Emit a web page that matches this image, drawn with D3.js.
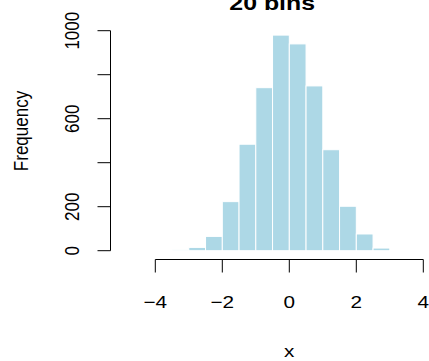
<!DOCTYPE html>
<html>
<head>
<meta charset="utf-8">
<script src="https://cdn.jsdelivr.net/npm/d3@7/dist/d3.min.js"></script>
<style>
  html, body { margin: 0; padding: 0; background: #fff; }
  svg { display: block; font-family: "Liberation Sans", Arial, Helvetica, sans-serif; }
</style>
</head>
<body>
<svg id="chart" width="429" height="361"></svg>
<script>
// Histogram bins (lower edges, width 0.5) and their counts
const binStarts = [-3.5, -3.0, -2.5, -2.0, -1.5, -1.0, -0.5, 0.0, 0.5, 1.0, 1.5, 2.0, 2.5, 3.0];
const counts    = [5, 15, 65, 223, 484, 741, 980, 940, 749, 459, 202, 76, 12, 1];
const binWidth = 0.5;

const xTicks = [-4, -2, 0, 2, 4];
const xTickLabels = ["\u22124", "\u22122", "0", "2", "4"];
const yTicks = [0, 200, 400, 600, 800, 1000];
const yTickLabels = ["0", "200", "", "600", "", "1000"];

const titleText = "20 bins";
const xLabel = "x";
const yLabel = "Frequency";

// text is drawn slightly wide
const stretch = 1.22;
const fontSize = 17;

const svg = d3.select("#chart");

const x = d3.scaleLinear().domain([-4, 4]).range([155.3, 423.3]);
const y = d3.scaleLinear().domain([0, 1000]).range([250.7, 30.7]);

// bars
svg.append("g")
  .selectAll("rect")
  .data(binStarts.map((s, i) => ({ x0: s, x1: s + binWidth, n: counts[i] })))
  .join("rect")
  .attr("x", d => x(d.x0))
  .attr("width", d => x(d.x1) - x(d.x0))
  .attr("y", d => y(d.n))
  .attr("height", d => y(0) - y(d.n))
  .attr("fill", "#ADD8E6")
  .attr("stroke", "#ffffff")
  .attr("stroke-width", 1);

// x axis
const xAxisY = 259.5;
const gx = svg.append("g").attr("transform", `translate(0,${xAxisY})`);
gx.append("line")
  .attr("x1", x(xTicks[0])).attr("x2", x(xTicks[xTicks.length - 1]))
  .attr("stroke", "#000").attr("stroke-width", 1);
gx.selectAll("line.tick")
  .data(xTicks)
  .join("line")
  .attr("class", "tick")
  .attr("x1", d => x(d)).attr("x2", d => x(d))
  .attr("y1", 0).attr("y2", 13)
  .attr("stroke", "#000").attr("stroke-width", 1);
gx.selectAll("text")
  .data(xTicks)
  .join("text")
  .attr("transform", d => `translate(${x(d)},48) scale(${stretch},1)`)
  .attr("text-anchor", "middle")
  .attr("font-size", fontSize)
  .attr("fill", "#000")
  .text((d, i) => xTickLabels[i]);

// y axis
const yAxisX = 110.5;
const gy = svg.append("g").attr("transform", `translate(${yAxisX},0)`);
gy.append("line")
  .attr("y1", y(yTicks[0])).attr("y2", y(yTicks[yTicks.length - 1]))
  .attr("stroke", "#000").attr("stroke-width", 1);
gy.selectAll("line.tick")
  .data(yTicks)
  .join("line")
  .attr("class", "tick")
  .attr("y1", d => y(d)).attr("y2", d => y(d))
  .attr("x1", 0).attr("x2", -13)
  .attr("stroke", "#000").attr("stroke-width", 1);
gy.selectAll("text")
  .data(yTicks.filter((d, i) => yTickLabels[i] !== ""))
  .join("text")
  .attr("transform", d => `translate(-31.2,${y(d)}) scale(${stretch},1) rotate(-90)`)
  .attr("text-anchor", "middle")
  .attr("font-size", fontSize)
  .attr("fill", "#000")
  .text(d => yTickLabels[yTicks.indexOf(d)]);

// title and axis labels
svg.append("text")
  .attr("transform", `translate(272.2,9.5) scale(${stretch},1)`)
  .attr("text-anchor", "middle")
  .attr("font-size", fontSize * 1.2)
  .attr("font-weight", "bold")
  .attr("fill", "#000")
  .text(titleText);

svg.append("text")
  .attr("transform", `translate(289.3,357) scale(${stretch},1)`)
  .attr("text-anchor", "middle")
  .attr("font-size", fontSize)
  .attr("fill", "#000")
  .text(xLabel);

svg.append("text")
  .attr("transform", `translate(28.3,131) scale(${stretch},1) rotate(-90)`)
  .attr("text-anchor", "middle")
  .attr("font-size", fontSize)
  .attr("fill", "#000")
  .text(yLabel);
</script>
</body>
</html>
